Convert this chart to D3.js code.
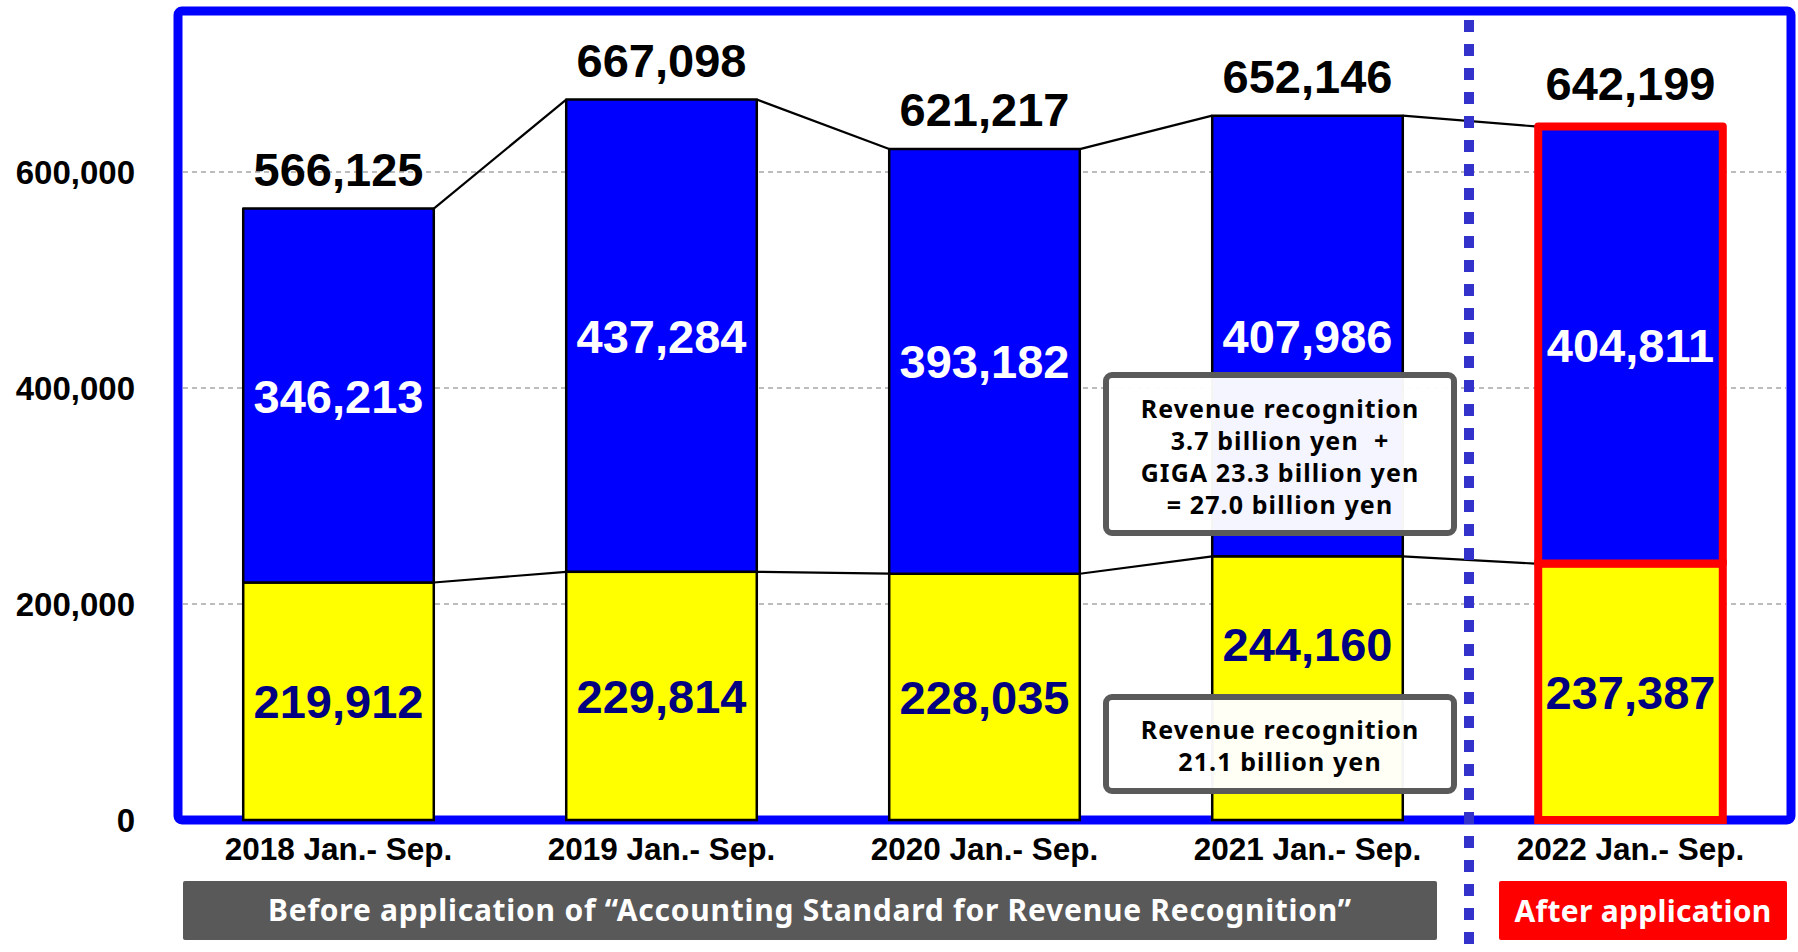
<!DOCTYPE html>
<html>
<head>
<meta charset="utf-8">
<script src="https://cdn.jsdelivr.net/npm/d3@7"></script>
<style>
  body { margin: 0; background: #fff; }
  svg { display: block; }
  .num { font-family: "Liberation Sans", Arial, sans-serif; font-weight: bold; }
  .jp { font-family: "Noto Sans", sans-serif; font-weight: bold; white-space: pre; }
</style>
</head>
<body>
<div id="chart"></div>
<script>
// chart values
var categories = ["2018 Jan.- Sep.", "2019 Jan.- Sep.", "2020 Jan.- Sep.", "2021 Jan.- Sep.", "2022 Jan.- Sep."];
var yellowVals = [219912, 229814, 228035, 244160, 237387];
var blueVals = [346213, 437284, 393182, 407986, 404811];
var totals = [566125, 667098, 621217, 652146, 642199];
var yTicks = [0, 200000, 400000, 600000];
var box1Lines = ["Revenue recognition", "3.7 billion yen  +", "GIGA 23.3 billion yen", "= 27.0 billion yen"];
var box2Lines = ["Revenue recognition", "21.1 billion yen"];
var beforeText = "Before application of \u201CAccounting Standard for Revenue Recognition\u201D";
var afterText = "After application";

var svgWidth = 1798;
var svgHeight = 952;

var svg = d3.select("#chart")
    .append("svg")
    .attr("width", svgWidth)
    .attr("height", svgHeight);

// frame of the plot
var frame = { left: 178, top: 11, right: 1791, bottom: 820 };

var x = d3.scaleBand()
    .domain(categories)
    .range([177, 1792])
    .paddingInner(0.41)
    .paddingOuter(0.205);

var y = d3.scaleLinear()
    .domain([0, 600000])
    .range([820, 172]);

var fmt = d3.format(",");

// gridlines
svg.append("g").selectAll("line")
    .data(yTicks.filter(d => d > 0))
    .enter().append("line")
    .attr("x1", frame.left + 5)
    .attr("x2", frame.right - 5)
    .attr("y1", d => y(d))
    .attr("y2", d => y(d))
    .attr("stroke", "#a6a6a6")
    .attr("stroke-width", 1.5)
    .attr("stroke-dasharray", "5,4");

// y tick labels
svg.append("g").selectAll("text")
    .data(yTicks)
    .enter().append("text")
    .attr("class", "num")
    .attr("x", 135)
    .attr("y", d => y(d) + 12)
    .attr("text-anchor", "end")
    .attr("font-size", 33)
    .attr("fill", "#000")
    .text(d => fmt(d));

// blue frame
svg.append("rect")
    .attr("x", frame.left)
    .attr("y", frame.top)
    .attr("width", frame.right - frame.left)
    .attr("height", frame.bottom - frame.top)
    .attr("rx", 4)
    .attr("fill", "none")
    .attr("stroke", "#0000ff")
    .attr("stroke-width", 9);

// connecting lines between bars (totals and yellow part)
var links = svg.append("g");
for (var i = 0; i < categories.length - 1; i++) {
    var x1 = x(categories[i]) + x.bandwidth();
    var x2 = x(categories[i + 1]);
    links.append("line")
        .attr("x1", x1).attr("x2", x2)
        .attr("y1", y(totals[i])).attr("y2", y(totals[i + 1]))
        .attr("stroke", "#000").attr("stroke-width", 2.2);
    links.append("line")
        .attr("x1", x1).attr("x2", x2)
        .attr("y1", y(yellowVals[i])).attr("y2", y(yellowVals[i + 1]))
        .attr("stroke", "#000").attr("stroke-width", 2.2);
}

var last = categories.length - 1;
var inset = (d, i) => i === last ? 3 : 0;

// yellow segments
svg.append("g").selectAll("rect")
    .data(yellowVals)
    .enter().append("rect")
    .attr("x", (d, i) => x(categories[i]) + inset(d, i))
    .attr("width", (d, i) => x.bandwidth() - 2 * inset(d, i))
    .attr("y", d => y(d))
    .attr("height", d => y(0) - y(d))
    .attr("fill", "#ffff00")
    .attr("stroke", (d, i) => i === last ? "#ff0000" : "#000")
    .attr("stroke-width", (d, i) => i === last ? 8 : 2.5);

// blue segments
svg.append("g").selectAll("rect")
    .data(blueVals)
    .enter().append("rect")
    .attr("x", (d, i) => x(categories[i]) + inset(d, i))
    .attr("width", (d, i) => x.bandwidth() - 2 * inset(d, i))
    .attr("y", (d, i) => y(totals[i]))
    .attr("height", (d, i) => y(yellowVals[i]) - y(totals[i]))
    .attr("fill", "#0000ff")
    .attr("stroke", (d, i) => i === last ? "#ff0000" : "#000")
    .attr("stroke-width", (d, i) => i === last ? 8 : 2.5)
    .attr("stroke-linejoin", "round");

var cx = i => x(categories[i]) + x.bandwidth() / 2;

// total labels
svg.append("g").selectAll("text")
    .data(totals)
    .enter().append("text")
    .attr("class", "num")
    .attr("x", (d, i) => cx(i))
    .attr("y", (d, i) => y(d) - (i === last ? 26 : 23))
    .attr("text-anchor", "middle")
    .attr("font-size", 47)
    .attr("fill", "#000")
    .text(d => fmt(d));

// blue labels
svg.append("g").selectAll("text")
    .data(blueVals)
    .enter().append("text")
    .attr("class", "num")
    .attr("x", (d, i) => cx(i))
    .attr("y", (d, i) => (y(totals[i]) + y(yellowVals[i])) / 2 + 17)
    .attr("text-anchor", "middle")
    .attr("font-size", 47)
    .attr("fill", "#fff")
    .text(d => fmt(d));

// yellow labels (2021 one raised above the note box)
svg.append("g").selectAll("text")
    .data(yellowVals)
    .enter().append("text")
    .attr("class", "num")
    .attr("x", (d, i) => cx(i))
    .attr("y", (d, i) => (y(d) + y(0)) / 2 + 17 - (i === 3 ? 44 : 0))
    .attr("text-anchor", "middle")
    .attr("font-size", 47)
    .attr("fill", "#000080")
    .text(d => fmt(d));

// category labels
svg.append("g").selectAll("text")
    .data(categories)
    .enter().append("text")
    .attr("class", "num")
    .attr("x", d => x(d) + x.bandwidth() / 2)
    .attr("y", 860)
    .attr("text-anchor", "middle")
    .attr("font-size", 31.5)
    .attr("fill", "#000")
    .text(d => d);

// dotted divider
svg.append("line")
    .attr("x1", 1469).attr("x2", 1469)
    .attr("y1", 20).attr("y2", 952)
    .attr("stroke", "#3333cc")
    .attr("stroke-width", 10)
    .attr("stroke-dasharray", "12,12");

// note boxes
function noteBox(bx, by, bw, bh, lines, firstBase) {
    var g = svg.append("g");
    g.append("rect")
        .attr("x", bx).attr("y", by)
        .attr("width", bw).attr("height", bh)
        .attr("rx", 6)
        .attr("fill", "#fff").attr("fill-opacity", 0.96)
        .attr("stroke", "#5a5a5a").attr("stroke-width", 6);
    g.selectAll("text")
        .data(lines)
        .enter().append("text")
        .attr("class", "jp")
        .attr("x", bx + bw / 2)
        .attr("y", (d, i) => firstBase + i * 32)
        .attr("text-anchor", "middle")
        .attr("font-size", 25)
        .attr("letter-spacing", 1.1)
        .attr("fill", "#000")
        .text(d => d);
}
noteBox(1106, 375, 348, 158, box1Lines, 418);
noteBox(1106, 697, 348, 94, box2Lines, 739);

// bottom banners
svg.append("rect")
    .attr("x", 183).attr("y", 881)
    .attr("width", 1254).attr("height", 59)
    .attr("rx", 2)
    .attr("fill", "#595959");
svg.append("text")
    .attr("class", "jp")
    .attr("x", 183 + 1254 / 2)
    .attr("y", 921)
    .attr("text-anchor", "middle")
    .attr("font-size", 30)
    .attr("letter-spacing", 0.75)
    .attr("fill", "#fff")
    .text(beforeText);

svg.append("rect")
    .attr("x", 1499).attr("y", 881)
    .attr("width", 288).attr("height", 59)
    .attr("rx", 2)
    .attr("fill", "#ff0000");
svg.append("text")
    .attr("class", "jp")
    .attr("x", 1499 + 288 / 2)
    .attr("y", 922)
    .attr("text-anchor", "middle")
    .attr("font-size", 30)
    .attr("letter-spacing", 0.3)
    .attr("fill", "#fff")
    .text(afterText);
</script>
</body>
</html>
